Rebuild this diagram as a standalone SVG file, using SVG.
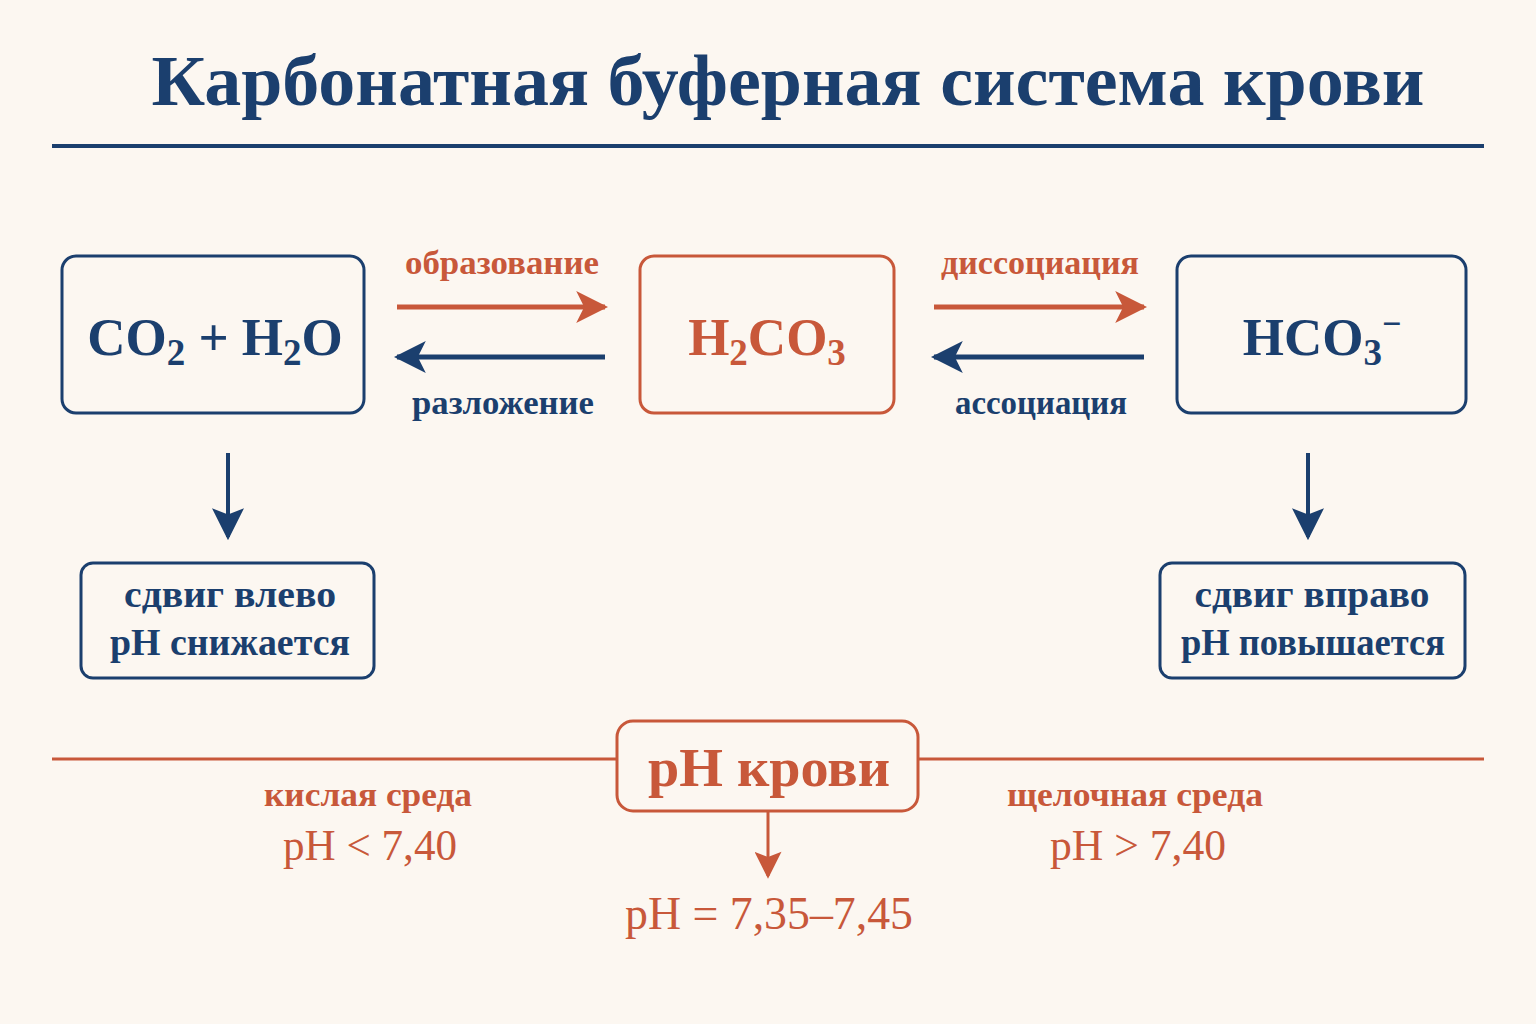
<svg xmlns="http://www.w3.org/2000/svg" width="1536" height="1024" viewBox="0 0 1536 1024">
<defs>
<style>
text{font-family:"Liberation Serif","DejaVu Serif",serif;text-anchor:middle}
.navy{fill:#1b3f6e}
.or{fill:#c8583a}
.b{font-weight:bold}
.boxN{fill:none;stroke:#1b3f6e;stroke-width:3}
.boxO{fill:none;stroke:#c8583a;stroke-width:3}
.lnN{stroke:#1b3f6e;stroke-width:5;fill:none}
.lnO{stroke:#c8583a;stroke-width:5;fill:none}
</style>
<marker id="hN" viewBox="0 0 10 10" refX="9" refY="5" markerWidth="6.4" markerHeight="6.4" markerUnits="strokeWidth" orient="auto"><path d="M0,0 L10,5 L0,10 L2.5,5 Z" fill="#1b3f6e"/></marker>
<marker id="hO" viewBox="0 0 10 10" refX="9" refY="5" markerWidth="6.4" markerHeight="6.4" markerUnits="strokeWidth" orient="auto"><path d="M0,0 L10,5 L0,10 L2.5,5 Z" fill="#c8583a"/></marker>
<marker id="hD" viewBox="0 0 10 10" refX="9" refY="5" markerWidth="8" markerHeight="8" markerUnits="strokeWidth" orient="auto"><path d="M0,0 L10,5 L0,10 L2,5 Z" fill="#1b3f6e"/></marker>
<marker id="hP" viewBox="0 0 10 10" refX="9" refY="5" markerWidth="12" markerHeight="9" markerUnits="strokeWidth" orient="auto"><path d="M0,0 L10,5 L0,10 L2,5 Z" fill="#c8583a"/></marker>
</defs>
<rect width="1536" height="1024" fill="#fcf7f1"/>
<g id="title">
<text x="788" y="105" class="navy b" font-size="72" textLength="1273" lengthAdjust="spacingAndGlyphs">Карбонатная буферная система крови</text>
<line x1="52" y1="146" x2="1484" y2="146" stroke="#1b3f6e" stroke-width="4"/>
</g>
<g id="co2">
<rect x="62" y="256" width="302" height="157" rx="14" class="boxN"/>
<text x="215" y="355" class="navy b" font-size="53">CO<tspan font-size="37" dy="10">2</tspan><tspan dy="-10"> + H</tspan><tspan font-size="37" dy="10">2</tspan><tspan dy="-10">O</tspan></text>
</g>
<g id="h2co3">
<rect x="640" y="256" width="254" height="157" rx="14" class="boxO"/>
<text x="767" y="355" class="or b" font-size="53">H<tspan font-size="37" dy="10">2</tspan><tspan dy="-10">CO</tspan><tspan font-size="37" dy="10">3</tspan></text>
</g>
<g id="hco3">
<rect x="1177" y="256" width="289" height="157" rx="14" class="boxN"/>
<text x="1322" y="355" class="navy b" font-size="53">HCO<tspan font-size="37" dy="10">3</tspan><tspan font-size="34" dy="-30">−</tspan></text>
</g>
<g id="left-shift">
<rect x="81" y="563" width="293" height="115" rx="12" class="boxN"/>
<text x="230" y="607" class="navy b" font-size="38" textLength="212" lengthAdjust="spacingAndGlyphs">сдвиг влево</text>
<text x="230" y="655" class="navy b" font-size="38" textLength="240" lengthAdjust="spacingAndGlyphs">pH снижается</text>
</g>
<g id="right-shift">
<rect x="1160" y="563" width="305" height="115" rx="12" class="boxN"/>
<text x="1312" y="607" class="navy b" font-size="38" textLength="235" lengthAdjust="spacingAndGlyphs">сдвиг вправо</text>
<text x="1313" y="655" class="navy b" font-size="38" textLength="264" lengthAdjust="spacingAndGlyphs">pH повышается</text>
</g>
<g id="ph">
<line x1="52" y1="759" x2="617" y2="759" stroke="#c8583a" stroke-width="3"/>
<line x1="918" y1="759" x2="1484" y2="759" stroke="#c8583a" stroke-width="3"/>
<rect x="617" y="721" width="301" height="90" rx="16" class="boxO"/>
<text x="769" y="786" class="or b" font-size="55" textLength="242" lengthAdjust="spacingAndGlyphs">pH крови</text>
<text x="368" y="806" class="or b" font-size="33" textLength="208" lengthAdjust="spacingAndGlyphs">кислая среда</text>
<text x="370" y="860" class="or" font-size="44" textLength="174" lengthAdjust="spacingAndGlyphs">pH &lt; 7,40</text>
<text x="1135" y="806" class="or b" font-size="33" textLength="256" lengthAdjust="spacingAndGlyphs">щелочная среда</text>
<text x="1138" y="860" class="or" font-size="44" textLength="176" lengthAdjust="spacingAndGlyphs">pH &gt; 7,40</text>
<text x="769" y="929" class="or" font-size="46" textLength="288" lengthAdjust="spacingAndGlyphs">pH = 7,35–7,45</text>
</g>
<g id="connectors">
<line x1="397" y1="307" x2="605" y2="307" class="lnO" marker-end="url(#hO)"/>
<line x1="605" y1="357" x2="397" y2="357" class="lnN" marker-end="url(#hN)"/>
<line x1="934" y1="307" x2="1144" y2="307" class="lnO" marker-end="url(#hO)"/>
<line x1="1144" y1="357" x2="934" y2="357" class="lnN" marker-end="url(#hN)"/>
<line x1="228" y1="453" x2="228" y2="537" stroke="#1b3f6e" stroke-width="4" marker-end="url(#hD)" fill="none"/>
<line x1="1308" y1="453" x2="1308" y2="537" stroke="#1b3f6e" stroke-width="4" marker-end="url(#hD)" fill="none"/>
<line x1="768" y1="811" x2="768" y2="876" stroke="#c8583a" stroke-width="3" marker-end="url(#hP)" fill="none"/>
<text x="502" y="274" class="or b" font-size="33" textLength="194" lengthAdjust="spacingAndGlyphs">образование</text>
<text x="503" y="414" class="navy b" font-size="33" textLength="182" lengthAdjust="spacingAndGlyphs">разложение</text>
<text x="1040" y="274" class="or b" font-size="33" textLength="198" lengthAdjust="spacingAndGlyphs">диссоциация</text>
<text x="1041" y="414" class="navy b" font-size="33" textLength="172" lengthAdjust="spacingAndGlyphs">ассоциация</text>
</g>
</svg>
